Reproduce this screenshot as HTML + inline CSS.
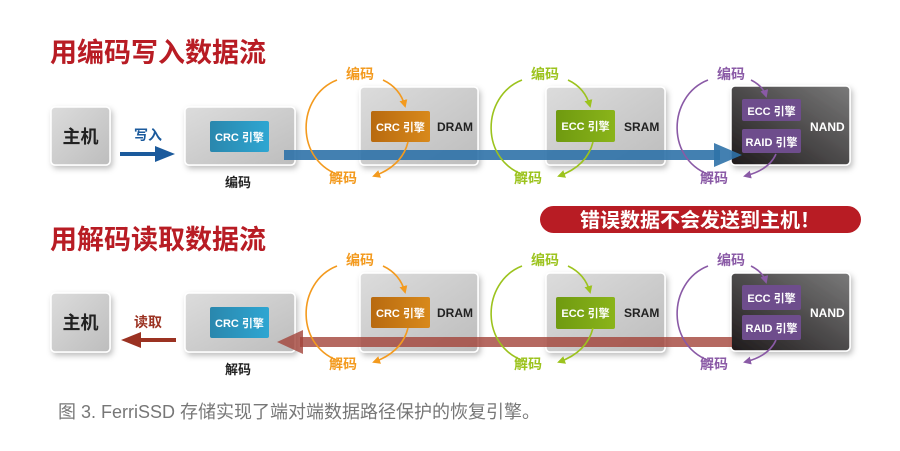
<!DOCTYPE html>
<html><head><meta charset="utf-8"><style>
body{margin:0;background:#fff;width:900px;height:446px;overflow:hidden}
text{font-family:"Liberation Sans","Noto Sans CJK SC",sans-serif;font-weight:bold}
</style></head><body>
<svg width="900" height="446" viewBox="0 0 900 446" xmlns="http://www.w3.org/2000/svg">
<defs>
<linearGradient id="gb" x1="0" y1="0" x2="1" y2="1"><stop offset="0" stop-color="#dcdcdc"/><stop offset="1" stop-color="#bdbdbd"/></linearGradient>
<linearGradient id="dk" x1="0" y1="1" x2="1" y2="0"><stop offset="0" stop-color="#1e1a1b"/><stop offset="1" stop-color="#7a7a7a"/></linearGradient>
<linearGradient id="bl" x1="0" y1="0" x2="1" y2="0"><stop offset="0" stop-color="#2a87ad"/><stop offset="1" stop-color="#2ea6d2"/></linearGradient>
<linearGradient id="or" x1="0" y1="0" x2="1" y2="0"><stop offset="0" stop-color="#b86a10"/><stop offset="1" stop-color="#d8891b"/></linearGradient>
<linearGradient id="gr" x1="0" y1="0" x2="1" y2="0"><stop offset="0" stop-color="#6f9a10"/><stop offset="1" stop-color="#8ab41a"/></linearGradient>
<filter id="sh" x="-20%" y="-20%" width="150%" height="150%"><feDropShadow dx="2" dy="3" stdDeviation="3" flood-color="#000" flood-opacity="0.25"/></filter>
<marker id="mo" markerWidth="8" markerHeight="8" refX="6" refY="4" orient="auto" markerUnits="userSpaceOnUse"><path d="M0,0 L8,4 L0,8 Z" fill="#f39a1e"/></marker>
<marker id="mg" markerWidth="8" markerHeight="8" refX="6" refY="4" orient="auto" markerUnits="userSpaceOnUse"><path d="M0,0 L8,4 L0,8 Z" fill="#9cc31e"/></marker>
<marker id="mp" markerWidth="8" markerHeight="8" refX="6" refY="4" orient="auto" markerUnits="userSpaceOnUse"><path d="M0,0 L8,4 L0,8 Z" fill="#8a5aa6"/></marker>
</defs>

<text x="50" y="62" font-size="27" fill="#b81c24">用编码写入数据流</text>
<text x="50" y="249" font-size="27" fill="#b81c24">用解码读取数据流</text>

<!-- ROW 1 -->
<g>
<rect x="51" y="107" width="59" height="58" rx="4" fill="url(#gb)" stroke="#fff" stroke-width="1.5" filter="url(#sh)"/>
<text x="80.5" y="143" font-size="18" fill="#222" text-anchor="middle">主机</text>
<text x="148" y="140" font-size="14" fill="#1b5a9c" text-anchor="middle">写入</text>
<rect x="120" y="152" width="38" height="4" fill="#1b5a9c"/><path d="M155,146 L175,154 L155,162 Z" fill="#1b5a9c"/>
<rect x="185" y="107" width="110" height="58" rx="4" fill="url(#gb)" stroke="#fff" stroke-width="1.5" filter="url(#sh)"/>
<rect x="210" y="121" width="59" height="31" rx="2" fill="url(#bl)"/>
<text x="239.5" y="141" font-size="11" fill="#fff" text-anchor="middle">CRC 引擎</text>
<text x="238" y="187" font-size="13" fill="#222" text-anchor="middle">编码</text>

<rect x="360" y="87" width="118" height="78" rx="4" fill="url(#gb)" stroke="#fff" stroke-width="1.5" filter="url(#sh)"/>
<rect x="371" y="111" width="59" height="31" rx="2" fill="url(#or)"/>
<text x="400.5" y="131" font-size="11" fill="#fff" text-anchor="middle">CRC 引擎</text>
<text x="437" y="131" font-size="12" fill="#222">DRAM</text>

<rect x="546" y="87" width="119" height="78" rx="4" fill="url(#gb)" stroke="#fff" stroke-width="1.5" filter="url(#sh)"/>
<rect x="556" y="110" width="59" height="32" rx="2" fill="url(#gr)"/>
<text x="585.5" y="130" font-size="11" fill="#fff" text-anchor="middle">ECC 引擎</text>
<text x="624" y="131" font-size="12" fill="#222">SRAM</text>

<rect x="731" y="86" width="119" height="79" rx="4" fill="url(#dk)" stroke="#fff" stroke-width="1.5" filter="url(#sh)"/>
<rect x="742" y="99" width="59" height="22" rx="2" fill="#6e4d8c"/>
<text x="771.5" y="115" font-size="11" fill="#fff" text-anchor="middle">ECC 引擎</text>
<rect x="742" y="129" width="59" height="24" rx="2" fill="#6e4d8c"/>
<text x="771.5" y="146" font-size="11" fill="#fff" text-anchor="middle">RAID 引擎</text>
<text x="810" y="131" font-size="12" fill="#fff">NAND</text>

<rect x="284" y="150" width="436" height="10" fill="#2f72a8" opacity="0.9"/>
<path d="M714,143 L742,155 L714,167 Z" fill="#2f72a8" opacity="0.9"/>
</g>

<!-- ROW 2 -->
<g>
<rect x="51" y="293" width="59" height="59" rx="4" fill="url(#gb)" stroke="#fff" stroke-width="1.5" filter="url(#sh)"/>
<text x="80.5" y="329" font-size="18" fill="#222" text-anchor="middle">主机</text>
<text x="148" y="327" font-size="14" fill="#9b3222" text-anchor="middle">读取</text>
<rect x="138" y="338" width="38" height="4" fill="#9b3222"/><path d="M141,332 L121,340 L141,348 Z" fill="#9b3222"/>
<rect x="185" y="293" width="110" height="59" rx="4" fill="url(#gb)" stroke="#fff" stroke-width="1.5" filter="url(#sh)"/>
<rect x="210" y="307" width="59" height="31" rx="2" fill="url(#bl)"/>
<text x="239.5" y="327" font-size="11" fill="#fff" text-anchor="middle">CRC 引擎</text>
<text x="238" y="374" font-size="13" fill="#222" text-anchor="middle">解码</text>

<rect x="360" y="273" width="118" height="79" rx="4" fill="url(#gb)" stroke="#fff" stroke-width="1.5" filter="url(#sh)"/>
<rect x="371" y="297" width="59" height="31" rx="2" fill="url(#or)"/>
<text x="400.5" y="317" font-size="11" fill="#fff" text-anchor="middle">CRC 引擎</text>
<text x="437" y="317" font-size="12" fill="#222">DRAM</text>

<rect x="546" y="273" width="119" height="79" rx="4" fill="url(#gb)" stroke="#fff" stroke-width="1.5" filter="url(#sh)"/>
<rect x="556" y="297" width="59" height="32" rx="2" fill="url(#gr)"/>
<text x="585.5" y="317" font-size="11" fill="#fff" text-anchor="middle">ECC 引擎</text>
<text x="624" y="317" font-size="12" fill="#222">SRAM</text>

<rect x="731" y="273" width="119" height="78" rx="4" fill="url(#dk)" stroke="#fff" stroke-width="1.5" filter="url(#sh)"/>
<rect x="742" y="285" width="59" height="25" rx="2" fill="#6e4d8c"/>
<text x="771.5" y="302" font-size="11" fill="#fff" text-anchor="middle">ECC 引擎</text>
<rect x="742" y="315" width="59" height="25" rx="2" fill="#6e4d8c"/>
<text x="771.5" y="332" font-size="11" fill="#fff" text-anchor="middle">RAID 引擎</text>
<text x="810" y="317" font-size="12" fill="#fff">NAND</text>

<rect x="300" y="337" width="432" height="10" fill="#a2443a" opacity="0.8"/>
<path d="M303,330 L277,342 L303,354 Z" fill="#a2443a" opacity="0.8"/>
</g>

<!-- loops -->
<g id="loops" fill="none" stroke-width="1.6">
<g stroke="#f39a1e">
<path d="M337,80 C296,96 294,162 342,176"/><path d="M383,80 Q400,88 405,106" marker-end="url(#mo)"/><path d="M408,142 Q402,166 374,176" marker-end="url(#mo)"/>
<path d="M337,266 C296,282 294,348 342,362"/><path d="M383,266 Q400,274 405,292" marker-end="url(#mo)"/><path d="M408,328 Q402,352 374,362" marker-end="url(#mo)"/>
</g>
<g stroke="#9cc31e" transform="translate(185,0)">
<path d="M337,80 C296,96 294,162 342,176"/><path d="M383,80 Q400,88 405,106" marker-end="url(#mg)"/><path d="M408,142 Q402,166 374,176" marker-end="url(#mg)"/>
<path d="M337,266 C296,282 294,348 342,362"/><path d="M383,266 Q400,274 405,292" marker-end="url(#mg)"/><path d="M408,328 Q402,352 374,362" marker-end="url(#mg)"/>
</g>
<g stroke="#8a5aa6" transform="translate(371,0)">
<path d="M337,80 C296,96 294,162 342,176"/><path d="M380,80 Q392,86 395,96" marker-end="url(#mp)"/><path d="M405,154 Q398,170 374,176" marker-end="url(#mp)"/>
<path d="M337,266 C296,282 294,348 342,362"/><path d="M380,266 Q392,272 395,282" marker-end="url(#mp)"/><path d="M405,340 Q398,356 374,362" marker-end="url(#mp)"/>
</g>
</g>
<g font-size="14">
<text x="360" y="79" fill="#f39a1e" text-anchor="middle">编码</text><text x="343" y="183" fill="#f39a1e" text-anchor="middle">解码</text>
<text x="360" y="265" fill="#f39a1e" text-anchor="middle">编码</text><text x="343" y="369" fill="#f39a1e" text-anchor="middle">解码</text>
<text x="545" y="79" fill="#9cc31e" text-anchor="middle">编码</text><text x="528" y="183" fill="#9cc31e" text-anchor="middle">解码</text>
<text x="545" y="265" fill="#9cc31e" text-anchor="middle">编码</text><text x="528" y="369" fill="#9cc31e" text-anchor="middle">解码</text>
<text x="731" y="79" fill="#8a5aa6" text-anchor="middle">编码</text><text x="714" y="183" fill="#8a5aa6" text-anchor="middle">解码</text>
<text x="731" y="265" fill="#8a5aa6" text-anchor="middle">编码</text><text x="714" y="369" fill="#8a5aa6" text-anchor="middle">解码</text>
</g>

<rect x="540" y="206" width="321" height="27" rx="13.5" fill="#b81c24"/>
<text x="700" y="227" font-size="20" fill="#fff" text-anchor="middle">错误数据不会发送到主机！</text>

<text x="58" y="418" font-size="18" fill="#777" style="font-weight:normal">图 3. FerriSSD 存储实现了端对端数据路径保护的恢复引擎。</text>
</svg>
</body></html>
